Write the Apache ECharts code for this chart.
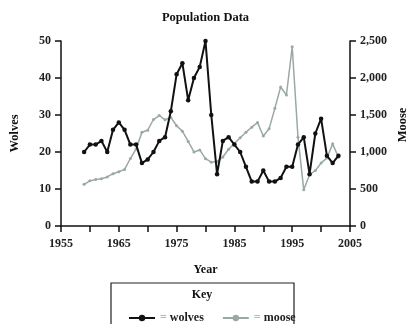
<!DOCTYPE html>
<html>
<head>
<meta charset="utf-8">
<script src="https://cdn.jsdelivr.net/npm/echarts@6/dist/echarts.min.js"></script>
<style>html,body{margin:0;padding:0;background:#fff}#c{width:411px;height:324px}</style>
</head>
<body>
<div id="c"></div>
<script>
const years = [1959,1960,1961,1962,1963,1964,1965,1966,1967,1968,1969,1970,1971,1972,1973,1974,1975,1976,1977,1978,1979,1980,1981,1982,1983,1984,1985,1986,1987,1988,1989,1990,1991,1992,1993,1994,1995,1996,1997,1998,1999,2000,2001,2002,2003];
const wolves = [20,22,22,23,20,26,28,26,22,22,17,18,20,23,24,31,41,44,34,40,43,50,30,14,23,24,22,20,16,12,12,15,12,12,13,16,16,22,24,14,25,29,19,17,19];
const moose = [563,610,628,639,663,707,733,765,912,1042,1268,1295,1439,1493,1435,1467,1355,1282,1143,1001,1028,910,863,872,932,1038,1115,1192,1268,1335,1397,1216,1313,1590,1879,1770,2422,1200,489,693,750,850,920,1110,928];
const xLabels = [1955,1965,1975,1985,1995,2005];

const serif = '"Liberation Serif","DejaVu Serif",serif';
const mooseColor = '#9aa8a8';
const chart = echarts.init(document.getElementById('c'));
chart.setOption({
  animation: false,
  title: {
    text: 'Population Data', left: 'center', top: 6,
    textStyle: {fontFamily: serif, fontWeight: 'bold', fontSize: 12.5, color: '#111'}
  },
  grid: {left: 56, top: 41, width: 294, height: 185, containLabel: false},
  xAxis: {
    type: 'value', min: 1955, max: 2005, interval: 5,
    name: 'Year', nameLocation: 'middle', nameGap: 38,
    nameTextStyle: {fontFamily: serif, fontWeight: 'bold', fontSize: 12, color: '#111'},
    axisLine: {lineStyle: {color: '#111', width: 1.5}},
    axisTick: {length: 6, lineStyle: {color: '#111', width: 1.5}},
    axisLabel: {
      margin: 12, fontFamily: serif, fontWeight: 'bold', fontSize: 12, color: '#222',
      formatter: v => xLabels.indexOf(v) >= 0 ? String(v) : ''
    },
    splitLine: {show: false}
  },
  yAxis: [
    {
      type: 'value', min: 0, max: 50, interval: 10, position: 'left',
      name: 'Wolves', nameLocation: 'middle', nameGap: 40, nameRotate: 90,
      nameTextStyle: {fontFamily: serif, fontWeight: 'bold', fontSize: 12.5, color: '#111'},
      axisLine: {show: true, lineStyle: {color: '#111', width: 1.5}},
      axisTick: {show: true, length: 6, lineStyle: {color: '#111', width: 1.5}},
      axisLabel: {margin: 10, fontFamily: serif, fontWeight: 'bold', fontSize: 12, color: '#222'},
      splitLine: {show: false}
    },
    {
      type: 'value', min: 0, max: 2500, interval: 500, position: 'right',
      axisLine: {show: true, lineStyle: {color: '#111', width: 1.5}},
      axisTick: {show: true, length: 6, lineStyle: {color: '#111', width: 1.5}},
      axisLabel: {
        margin: 10, fontFamily: serif, fontWeight: 'bold', fontSize: 12, color: '#222',
        formatter: v => v.toLocaleString('en-US')
      },
      splitLine: {show: false}
    }
  ],
  legend: {
    left: 123, top: 307, itemWidth: 26, itemHeight: 8, itemGap: 18,
    data: ['wolves', 'moose'],
    formatter: n => '{eq|=} ' + n,
    textStyle: {
      fontFamily: serif, fontWeight: 'bold', fontSize: 12, color: '#222',
      rich: {eq: {color: '#b0b8b8', fontFamily: serif, fontWeight: 'bold', fontSize: 12}}
    }
  },
  graphic: [
    {type: 'rect', shape: {x: 111, y: 283, width: 183, height: 45}, style: {fill: 'none', stroke: '#222', lineWidth: 1.2}},
    {type: 'text', x: 202, y: 289, style: {text: 'Key', fontFamily: serif, fontWeight: 'bold', fontSize: 12, fill: '#111', align: 'center'}},
    {type: 'text', x: 403, y: 125, rotation: Math.PI / 2, style: {text: 'Moose', fontFamily: serif, fontWeight: 'bold', fontSize: 12.5, fill: '#111', align: 'center', verticalAlign: 'middle'}}
  ],
  series: [
    {
      name: 'wolves', type: 'line', yAxisIndex: 0,
      data: years.map((y, i) => [y, wolves[i]]),
      symbol: 'circle', symbolSize: 4.5,
      lineStyle: {color: '#111', width: 2},
      itemStyle: {color: '#111'}, z: 3
    },
    {
      name: 'moose', type: 'line', yAxisIndex: 1,
      data: years.map((y, i) => [y, moose[i]]),
      symbol: 'circle', symbolSize: 3,
      lineStyle: {color: mooseColor, width: 1.5},
      itemStyle: {color: mooseColor}, z: 2
    }
  ]
});
</script>
</body>
</html>
